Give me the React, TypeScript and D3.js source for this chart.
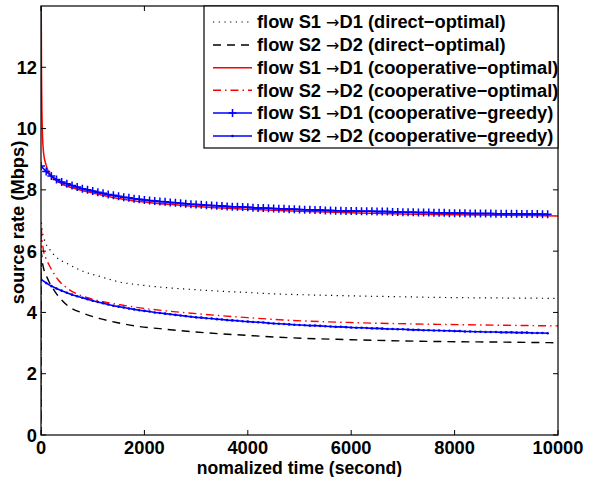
import * as d3 from "d3";

// chart values
const tDirectS1 = [0, 2, 20, 60, 175, 300, 500, 800, 1150, 1500, 2000, 3000, 4000, 4600, 5000, 6000, 7000, 7700, 9000, 10000];
const vDirectS1 = [0, 7.0, 6.7, 6.4, 6.04, 5.8, 5.6, 5.35, 5.17, 5.0, 4.88, 4.74, 4.65, 4.6, 4.58, 4.54, 4.51, 4.49, 4.47, 4.46];

const tDirectS2 = [0, 3, 30, 140, 270, 500, 820, 1140, 1460, 1900, 2300, 3000, 4000, 4600, 6000, 7700, 9000, 10000];
const vDirectS2 = [0, 6.0, 5.6, 5.06, 4.68, 4.24, 3.97, 3.8, 3.67, 3.54, 3.47, 3.36, 3.25, 3.19, 3.11, 3.05, 3.03, 3.01];

const tCoopOptS1 = [0, 3, 10, 25, 50, 100, 200, 400, 700, 1000, 1500, 2000, 3000, 4000, 5000, 6000, 7000, 8000, 9000, 10000];
const vCoopOptS1 = [16, 14.5, 11.8, 10.0, 9.2, 8.8, 8.44, 8.2, 8.02, 7.9, 7.72, 7.6, 7.46, 7.37, 7.3, 7.25, 7.21, 7.19, 7.17, 7.15];

const tCoopOptS2 = [0, 2, 20, 50, 100, 175, 335, 500, 700, 820, 1000, 1140, 1530, 2000, 2430, 3075, 4000, 4620, 6000, 7720, 9000, 10000];
const vCoopOptS2 = [0, 6.8, 6.4, 6.0, 5.75, 5.49, 5.06, 4.8, 4.6, 4.52, 4.43, 4.37, 4.25, 4.13, 4.05, 3.95, 3.83, 3.76, 3.67, 3.61, 3.58, 3.56];

// greedy runs are sampled every 100 s (one marker per sample)
const tGreedy = d3.range(0, 9801, 100);
const vGreedyS1 = [
  8.78, 8.6, 8.45, 8.34, 8.26, 8.2, 8.14, 8.09, 8.04, 8.0,
  7.96, 7.92, 7.89, 7.85, 7.82, 7.79, 7.76, 7.74, 7.71, 7.69,
  7.67, 7.65, 7.64, 7.62, 7.61, 7.59, 7.58, 7.56, 7.55, 7.53,
  7.52, 7.51, 7.5, 7.49, 7.48, 7.47, 7.46, 7.45, 7.45, 7.44,
  7.43, 7.42, 7.41, 7.41, 7.4, 7.39, 7.38, 7.38, 7.37, 7.37,
  7.36, 7.35, 7.35, 7.34, 7.34, 7.33, 7.33, 7.32, 7.32, 7.31,
  7.31, 7.31, 7.3, 7.3, 7.3, 7.29, 7.29, 7.29, 7.28, 7.28,
  7.27, 7.27, 7.27, 7.26, 7.26, 7.26, 7.25, 7.25, 7.25, 7.24,
  7.24, 7.24, 7.24, 7.23, 7.23, 7.23, 7.23, 7.23, 7.22, 7.22,
  7.22, 7.22, 7.22, 7.21, 7.21, 7.21, 7.21, 7.2, 7.2,
];
const vGreedyS2 = [
  5.08, 4.96, 4.86, 4.78, 4.71, 4.64, 4.58, 4.53, 4.48, 4.43,
  4.38, 4.34, 4.3, 4.26, 4.22, 4.19, 4.16, 4.13, 4.1, 4.07,
  4.05, 4.03, 4.0, 3.98, 3.96, 3.94, 3.92, 3.9, 3.88, 3.86,
  3.84, 3.83, 3.81, 3.8, 3.78, 3.77, 3.75, 3.74, 3.73, 3.71,
  3.7, 3.69, 3.68, 3.67, 3.65, 3.64, 3.63, 3.62, 3.61, 3.6,
  3.59, 3.58, 3.57, 3.57, 3.56, 3.55, 3.54, 3.53, 3.53, 3.52,
  3.51, 3.5, 3.5, 3.49, 3.48, 3.48, 3.47, 3.46, 3.46, 3.45,
  3.45, 3.44, 3.43, 3.43, 3.42, 3.42, 3.41, 3.41, 3.4, 3.4,
  3.39, 3.39, 3.38, 3.38, 3.37, 3.37, 3.36, 3.36, 3.36, 3.35,
  3.35, 3.35, 3.34, 3.34, 3.34, 3.33, 3.33, 3.33, 3.32,
];

const xTicks = [0, 2000, 4000, 6000, 8000, 10000];
const yTicks = [0, 2, 4, 6, 8, 10, 12];

// legend: text before and after the arrow
const legendLabels = [
  ["flow S1 ", "D1 (direct\u2212optimal)"],
  ["flow S2 ", "D2 (direct\u2212optimal)"],
  ["flow S1 ", "D1 (cooperative\u2212optimal)"],
  ["flow S2 ", "D2 (cooperative\u2212optimal)"],
  ["flow S1 ", "D1 (cooperative\u2212greedy)"],
  ["flow S2 ", "D2 (cooperative\u2212greedy)"],
];

const W = 592;
const H = 477;
const box = { left: 41, right: 558, top: 6, bottom: 435 };
const font = "'Liberation Sans', Arial, Helvetica, sans-serif";
const fs = 18.3;

const styles = [
  { color: "#000", dash: "1.2 4.5", width: 1.2, marker: "" },
  { color: "#000", dash: "8 6", width: 1.4, marker: "" },
  { color: "#f00", dash: "", width: 1.5, marker: "" },
  { color: "#f00", dash: "8 4 1.5 4", width: 1.4, marker: "" },
  { color: "#00f", dash: "", width: 1.6, marker: "plus" },
  { color: "#00f", dash: "", width: 1.6, marker: "dot" },
];

const App = () => {
  const x = d3.scaleLinear().domain([0, 10000]).range([box.left, box.right]);
  const y = d3.scaleLinear().domain([0, 14]).range([box.bottom, box.top]);

  const smooth = d3
    .line<[number, number]>()
    .x((d) => x(d[0]))
    .y((d) => y(d[1]))
    .curve(d3.curveMonotoneX);
  const straight = d3
    .line<[number, number]>()
    .x((d) => x(d[0]))
    .y((d) => y(d[1]));

  const zip = (t: number[], v: number[]) => t.map((ti, i) => [ti, v[i]] as [number, number]);

  const series = [
    { pts: zip(tDirectS1, vDirectS1), gen: smooth },
    { pts: zip(tDirectS2, vDirectS2), gen: smooth },
    { pts: zip(tCoopOptS1, vCoopOptS1), gen: smooth },
    { pts: zip(tCoopOptS2, vCoopOptS2), gen: smooth },
    { pts: zip(tGreedy, vGreedyS1), gen: straight },
    { pts: zip(tGreedy, vGreedyS2), gen: straight },
  ];

  const plus = (cx: number, cy: number, r: number, key: any, color: string) => (
    <path key={key} d={`M${cx - r},${cy}H${cx + r}M${cx},${cy - r}V${cy + r}`} stroke={color} strokeWidth={1.5} fill="none" />
  );

  const legendX = 204;
  const legendRows = [22, 45, 67.7, 90.3, 113, 136];

  return (
    <svg width={W} height={H} style={{ position: "absolute", left: 0, top: 0, background: "#fff" }} fontFamily={font} fontWeight="bold">
      <defs>
        <clipPath id="plotClip">
          <rect x={box.left} y={box.top} width={box.right - box.left} height={box.bottom - box.top} />
        </clipPath>
      </defs>
      <rect x={0} y={0} width={W} height={H} fill="#fff" />

      {/* curves */}
      <g clipPath="url(#plotClip)">
        {series.map((s, i) => {
          const st = styles[i];
          return (
            <g key={i}>
              <path d={s.gen(s.pts) || ""} fill="none" stroke={st.color} strokeWidth={st.width} strokeDasharray={st.dash || undefined} />
              {st.marker === "plus" && s.pts.map((p, j) => plus(x(p[0]), y(p[1]), 4, j, st.color))}
              {st.marker === "dot" && s.pts.map((p, j) => <circle key={j} cx={x(p[0])} cy={y(p[1])} r={1.3} fill={st.color} />)}
            </g>
          );
        })}
      </g>

      {/* axes box and ticks */}
      <rect x={box.left} y={box.top} width={box.right - box.left} height={box.bottom - box.top} fill="none" stroke="#000" strokeWidth={1.2} />
      {xTicks.map((t) => (
        <g key={"x" + t}>
          <line x1={x(t)} x2={x(t)} y1={box.bottom} y2={box.bottom - 5} stroke="#000" />
          <line x1={x(t)} x2={x(t)} y1={box.top} y2={box.top + 5} stroke="#000" />
          <text x={x(t)} y={453.5} textAnchor="middle" fontSize={fs}>{t}</text>
        </g>
      ))}
      {yTicks.map((v) => (
        <g key={"y" + v}>
          <line x1={box.left} x2={box.left + 5} y1={y(v)} y2={y(v)} stroke="#000" />
          <line x1={box.right} x2={box.right - 5} y1={y(v)} y2={y(v)} stroke="#000" />
          <text x={37} y={y(v) + 6.5} textAnchor="end" fontSize={fs}>{v}</text>
        </g>
      ))}

      <text x={(box.left + box.right) / 2} y={473.5} textAnchor="middle" fontSize={17.6}>nomalized time (second)</text>
      <text transform={`translate(24, ${(box.top + box.bottom) / 2 + 2}) rotate(-90)`} textAnchor="middle" fontSize={fs}>source rate (Mbps)</text>

      {/* legend */}
      <rect x={legendX} y={box.top} width={box.right - legendX} height={142} fill="#fff" stroke="#000" strokeWidth={1.2} />
      {legendLabels.map((lab, i) => {
        const st = styles[i];
        const cy = legendRows[i];
        return (
          <g key={"l" + i}>
            <line x1={213} x2={252} y1={cy} y2={cy} stroke={st.color} strokeWidth={st.width} strokeDasharray={st.dash || undefined} />
            {st.marker === "plus" && plus(232.5, cy, 4, "m", st.color)}
            {st.marker === "dot" && <circle cx={232.5} cy={cy} r={1.3} fill={st.color} />}
            <text x={257} y={cy + 6.3} fontSize={fs}>
              {lab[0]}
              <tspan fontFamily="'DejaVu Sans'" fontWeight="normal" fontSize={16}>{"\u2192"}</tspan>
              {lab[1]}
            </text>
          </g>
        );
      })}
    </svg>
  );
};

export default App;
